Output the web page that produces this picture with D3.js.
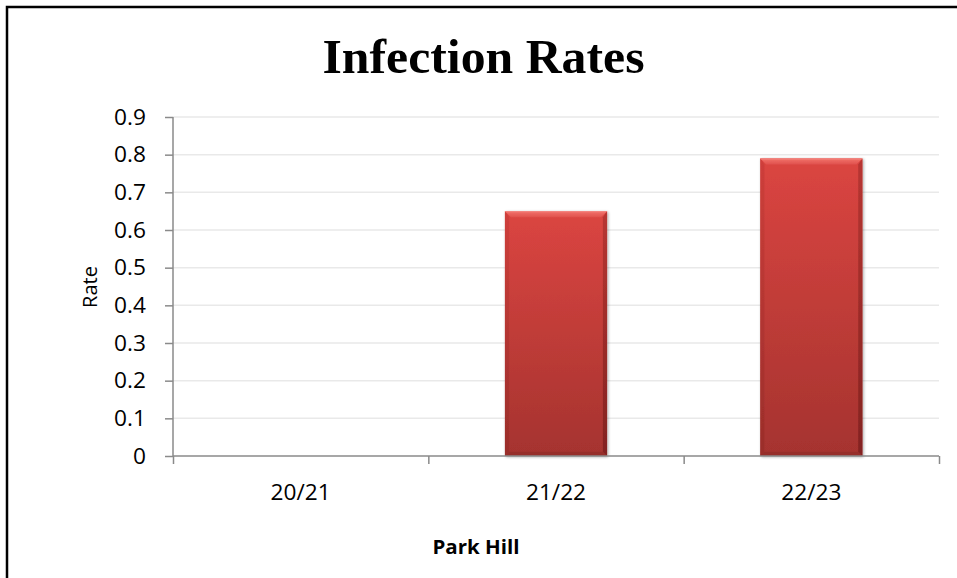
<!DOCTYPE html>
<html>
<head>
<meta charset="utf-8">
<script src="https://cdn.jsdelivr.net/npm/d3@7"></script>
<style>
html,body{margin:0;padding:0;background:#fff;}
svg{display:block;}
</style>
</head>
<body>
<script>
const categories = ["20/21", "21/22", "22/23"];
const rates = [0, 0.65, 0.79];
const yTicks = [0, 0.1, 0.2, 0.3, 0.4, 0.5, 0.6, 0.7, 0.8, 0.9];
const title = "Infection Rates";
const xTitle = "Park Hill";
const yTitle = "Rate";

const W = 957, H = 578;
const svg = d3.select("body").append("svg").attr("width", W).attr("height", H);

const defs = svg.append("defs");
const g1 = defs.append("linearGradient").attr("id","barGrad").attr("x1",0).attr("y1",0).attr("x2",0).attr("y2",1);
g1.append("stop").attr("offset","0%").attr("stop-color","#db4541");
g1.append("stop").attr("offset","100%").attr("stop-color","#a5332f");
const gTop = defs.append("linearGradient").attr("id","topGrad").attr("x1",0).attr("y1",0).attr("x2",0).attr("y2",1);
gTop.append("stop").attr("offset","0%").attr("stop-color","#f2726c");
gTop.append("stop").attr("offset","100%").attr("stop-color","#e0524d");
const gL = defs.append("linearGradient").attr("id","leftGrad").attr("x1",0).attr("y1",0).attr("x2",0).attr("y2",1);
gL.append("stop").attr("offset","0%").attr("stop-color","#c93c38");
gL.append("stop").attr("offset","100%").attr("stop-color","#952b28");
const gR = defs.append("linearGradient").attr("id","rightGrad").attr("x1",0).attr("y1",0).attr("x2",0).attr("y2",1);
gR.append("stop").attr("offset","0%").attr("stop-color","#b2332f");
gR.append("stop").attr("offset","100%").attr("stop-color","#7c201e");
const flt = defs.append("filter").attr("id","shadow").attr("x","-10%").attr("y","-10%").attr("width","130%").attr("height","130%");
flt.append("feGaussianBlur").attr("in","SourceAlpha").attr("stdDeviation",1.5);
flt.append("feOffset").attr("dx",1).attr("dy",1).attr("result","ob");
flt.append("feComponentTransfer").append("feFuncA").attr("type","linear").attr("slope",0.35);
const fm = flt.append("feMerge");
fm.append("feMergeNode");
fm.append("feMergeNode").attr("in","SourceGraphic");

// chart border
svg.append("rect").attr("x",7).attr("y",7).attr("width",1200).attr("height",1200)
  .attr("fill","none").attr("stroke","#000").attr("stroke-width",2.5);

const plot = {left:173, right:939, top:117, bottom:456};
const x = d3.scaleBand().domain(categories).range([plot.left, plot.right]).paddingInner(0.6).paddingOuter(0.3);
const y = d3.scaleLinear().domain([0, 0.9]).range([plot.bottom, plot.top]);

const SX = 1.08;
function stretchedText(sel, xx, yy, txt, anchor){
  return sel.append("text").attr("transform",`translate(${xx},${yy}) scale(${SX},1)`)
    .attr("text-anchor",anchor).text(txt);
}

// gridlines
svg.append("g").selectAll("line").data(yTicks.filter(d=>d>0)).join("line")
  .attr("x1",plot.left).attr("x2",plot.right)
  .attr("y1",d=>y(d)).attr("y2",d=>y(d))
  .attr("stroke","#e9e9e9").attr("stroke-width",1.5);

// bars
const bw = x.bandwidth();
const bv = 6;
const bars = svg.append("g").selectAll("g").data(categories.map((c,i)=>({c, v:rates[i]})).filter(d=>d.v>0)).join("g")
  .attr("filter","url(#shadow)");
bars.each(function(d){
  const gg = d3.select(this);
  const x0 = x(d.c), x1 = x0 + bw, y0 = y(d.v), y1 = y(0);
  gg.append("rect").attr("x",x0).attr("y",y0).attr("width",bw).attr("height",y1-y0).attr("fill","url(#barGrad)");
  gg.append("polygon").attr("points",[[x0,y0],[x1,y0],[x1-bv,y0+bv],[x0+bv,y0+bv]].map(p=>p.join(",")).join(" "))
    .attr("fill","url(#topGrad)");
  gg.append("line").attr("x1",x0).attr("x2",x1).attr("y1",y0+0.5).attr("y2",y0+0.5).attr("stroke","#f58a84").attr("stroke-width",1);
  gg.append("polygon").attr("points",[[x0,y0],[x0+bv*0.7,y0+bv],[x0+bv*0.7,y1-bv*0.7],[x0,y1]].map(p=>p.join(",")).join(" "))
    .attr("fill","url(#leftGrad)").attr("opacity",0.7);
  gg.append("polygon").attr("points",[[x1,y0],[x1-bv*0.7,y0+bv],[x1-bv*0.7,y1-bv*0.7],[x1,y1]].map(p=>p.join(",")).join(" "))
    .attr("fill","url(#rightGrad)").attr("opacity",0.85);
  gg.append("polygon").attr("points",[[x0,y1],[x0+bv*0.7,y1-bv*0.7],[x1-bv*0.7,y1-bv*0.7],[x1,y1]].map(p=>p.join(",")).join(" "))
    .attr("fill","#8c2926").attr("opacity",0.6);
});

// axes
const axisColor = "#8a8a8a";
const yAxis = svg.append("g").attr("transform",`translate(${plot.left},0)`)
  .call(d3.axisLeft(y).tickValues(yTicks).tickSize(8).tickFormat(()=>""));
yAxis.select(".domain").attr("stroke",axisColor).attr("stroke-width",1.5).attr("d",`M0,${plot.top}V${plot.bottom}`);
yAxis.selectAll(".tick line").attr("stroke",axisColor).attr("stroke-width",1.5);

const xb = d3.scaleLinear().domain([0, categories.length]).range([plot.left, plot.right]);
const xAxis = svg.append("g").attr("transform",`translate(0,${plot.bottom})`)
  .call(d3.axisBottom(xb).tickValues(d3.range(categories.length+1)).tickSize(8).tickFormat(()=>""));
xAxis.select(".domain").attr("stroke",axisColor).attr("stroke-width",1.5).attr("d",`M${plot.left},0H${plot.right}`);
xAxis.selectAll(".tick line").attr("stroke",axisColor).attr("stroke-width",1.5);

// tick labels
const lab = svg.append("g").attr("font-family","'Open Sans', 'Noto Sans', sans-serif").attr("font-size",21).attr("fill","#000");
yTicks.forEach(t=>{
  stretchedText(lab, 146, y(t)+7.5, d3.format("")(t), "end");
});
categories.forEach(c=>{
  stretchedText(lab, x(c)+bw/2, 500, c, "middle");
});

// axis titles
svg.append("text").attr("transform","translate(97,287) rotate(-90)").attr("text-anchor","middle")
  .attr("font-family","'Open Sans', 'Noto Sans', sans-serif").attr("font-size",20).text(yTitle);
const xt = svg.append("g").attr("font-family","'Open Sans', 'Noto Sans', sans-serif").attr("font-size",19).attr("font-weight","bold");
stretchedText(xt, 476, 554, xTitle, "middle");

// title
svg.append("text").attr("x",483.5).attr("y",73).attr("text-anchor","middle")
  .attr("font-family","'Liberation Serif', 'DejaVu Serif', serif").attr("font-weight","bold").attr("font-size",48)
  .attr("textLength",322).attr("lengthAdjust","spacingAndGlyphs").text(title);
</script>
</body>
</html>
